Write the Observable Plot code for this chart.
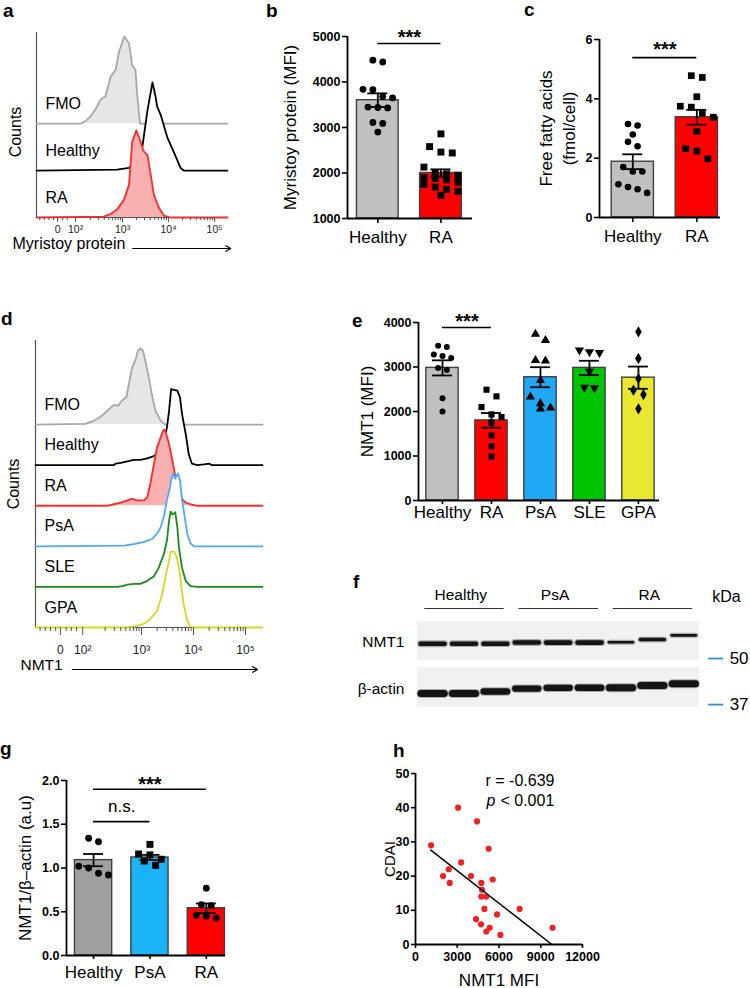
<!DOCTYPE html>
<html><head><meta charset="utf-8">
<script src="https://cdn.jsdelivr.net/npm/d3@7"></script>
<script src="https://cdn.jsdelivr.net/npm/@observablehq/plot@0.6"></script>
<style>
body{margin:0;background:#fff;}
#root{position:relative;width:750px;height:988px;overflow:hidden;background:#fff;font-family:"Liberation Sans",Arial,sans-serif;}
.lt{position:absolute;font-weight:bold;font-size:19px;line-height:19px;color:#000;}
</style></head><body><div id="root"></div>
<script>
// ---------- DATA ----------
// a: Myristoy protein flow histograms  [log10 fluorescence, relative count (peak=100)]
const aLabels = ["FMO", "Healthy", "RA"];
const aFMO = [[2.09,0],[2.20,3],[2.30,8],[2.41,16],[2.52,27],[2.63,31],[2.74,53],[2.85,61],[2.92,81],[3.04,99],[3.14,91],[3.21,66],[3.28,61],[3.32,31],[3.38,0]];
const aHealthy = [[2.88,1],[3.14,3],[3.25,8],[3.36,16],[3.43,27],[3.54,68],[3.65,100],[3.72,83],[3.75,73],[3.83,63],[3.97,38],[4.12,20],[4.26,3],[4.33,0]];
const aRA = [[2.59,1],[2.74,4],[2.88,9],[3.03,20],[3.14,37],[3.21,86],[3.30,99],[3.39,86],[3.46,75],[3.54,71],[3.61,49],[3.68,26],[3.79,11],[3.90,2],[4.04,0]];
const aTickPos = [1.59, 1.98, 3, 4, 5];
const histTickLabels = ["0", "10\u00B2", "10\u00B3", "10\u2074", "10\u2075"];

// b: Myristoy protein (MFI)
const bCats = ["Healthy", "RA"];
const bMeans = [3600, 2000];
const bSems = [150, 80];
const bHealthy = [4480,4440,3840,3830,3680,3650,3450,3440,3430,3110,3090,2900];
const bRA = [2860,2580,2460,2440,2130,2000,1980,1950,1900,1880,1850,1800,1750,1690,1640,1600,1510];
const bTicks = [1000,2000,3000,4000,5000];

// c: Free fatty acids (fmol/cell)
const cCats = ["Healthy", "RA"];
const cMeans = [1.88, 3.38];
const cSems = [0.25, 0.25];
const cHealthy = [3.15,3.10,2.80,2.55,2.40,1.70,1.55,1.55,1.12,1.03,0.95,0.83];
const cRA = [4.78,4.72,4.07,3.75,3.72,3.52,3.38,2.90,2.32,2.24,1.98];
const cTicks = [0,2,4,6];

// d: NMT1 flow histograms
const dLabels = ["FMO", "Healthy", "RA", "PsA", "SLE", "GPA"];
const dFMO = [[1.92,1],[2.08,5],[2.21,10],[2.34,18],[2.47,26],[2.55,25],[2.63,32],[2.71,36],[2.76,54],[2.82,75],[2.89,86],[2.93,97],[2.98,100],[3.03,97],[3.08,82],[3.14,62],[3.21,36],[3.27,18],[3.37,5],[3.46,0]];
const dHealthy = [[2.47,0],[2.50,2],[2.60,3],[2.73,5],[2.85,7],[2.98,7],[3.11,9],[3.24,12],[3.33,17],[3.43,30],[3.49,50],[3.53,71],[3.57,100],[3.62,99],[3.69,98],[3.74,89],[3.78,67],[3.85,41],[3.91,14],[3.97,2],[4.07,0],[4.20,1],[4.30,2],[4.36,0]];
const dRA = [[2.34,0],[2.47,2],[2.60,4],[2.73,7],[2.82,9],[2.92,7],[3.05,7],[3.11,11],[3.17,29],[3.24,55],[3.30,77],[3.35,86],[3.40,96],[3.43,100],[3.47,96],[3.53,81],[3.57,68],[3.62,50],[3.69,24],[3.75,11],[3.85,4],[3.94,2],[4.07,0]];
const dPsA = [[2.66,1],[2.85,3],[3.05,6],[3.21,10],[3.30,17],[3.37,25],[3.43,39],[3.49,61],[3.55,78],[3.57,87],[3.61,96],[3.65,89],[3.70,96],[3.74,87],[3.78,61],[3.83,39],[3.88,17],[3.94,4],[4.01,0]];
const dSLE = [[2.53,0],[2.63,1],[2.73,3],[2.85,4],[2.98,4],[3.11,8],[3.24,14],[3.33,25],[3.43,43],[3.49,61],[3.53,87],[3.56,99],[3.60,95],[3.65,98],[3.69,78],[3.72,52],[3.78,25],[3.85,8],[3.94,1],[4.07,0]];
const dGPA = [[2.73,0],[2.82,1],[2.92,2],[3.05,5],[3.17,11],[3.30,22],[3.40,44],[3.46,66],[3.53,88],[3.56,99],[3.62,100],[3.67,94],[3.72,79],[3.76,57],[3.81,31],[3.88,9],[3.94,1],[4.01,0]];
const dTickPos = [1.44, 1.87, 3, 4, 5];

// e: NMT1 (MFI)
const eCats = ["Healthy", "RA", "PsA", "SLE", "GPA"];
const eMeans = [2980, 1800, 2770, 2980, 2760];
const eSems = [170, 165, 225, 160, 250];
const eHealthy = [3480,3450,3280,3250,3200,2980,2930,2300,2000];
const eRA = [2490,2340,2100,1935,1875,1750,1460,1220,990];
const ePsA = [3740,3600,3150,3140,2700,2330,2180,2080,2060];
const eSLE = [3380,3340,3320,2900,2540,2530];
const eGPA = [3790,3190,2740,2480,2380,2060];
const eTicks = [0,1000,2000,3000,4000];

// f: western blot (lanes: 3 Healthy, 3 PsA, 3 RA)
const fGroups = ["Healthy", "PsA", "RA"];
const fNmt1Intensity = [0.85,0.80,0.80,0.85,0.90,0.90,0.35,0.55,0.40];
const fNmt1MW = [55.1,55.1,55.1,55.5,55.5,55.5,55.6,56.6,58.2];
const fActinIntensity = [1.0,1.0,0.9,0.85,0.85,0.9,1.0,1.0,1.0];
const fActinMW = [39.8,39.8,40.3,41.1,41.3,41.3,41.3,41.9,42.4];
const fMarkers = [50, 37];

// g: NMT1/beta-actin
const gCats = ["Healthy", "PsA", "RA"];
const gMeans = [1.09, 1.12, 0.54];
const gSems = [0.07, 0.03, 0.055];
const gHealthy = [1.34,1.30,1.02,1.00,0.94,0.92];
const gPsA = [1.27,1.16,1.15,1.10,1.08,1.03];
const gRA = [0.77,0.58,0.57,0.46,0.45,0.43];
const gTicks = [0,0.5,1.0,1.5,2.0];

// h: CDAI vs NMT1 MFI
const hNMT1 = [1120,3060,4420,5260,3280,1980,2390,2460,3990,4730,4780,5550,4730,5090,4950,7480,5860,4350,4710,5330,5090,6100,9850];
const hCDAI = [29,40,36,28,24,20,22,18,20,18,16,19,14,14,10.4,10.4,8.8,7.4,5.9,4.9,3.8,2.8,4.9];
const hFitX = [1100, 9800];
const hFitY = [27.6, 0];
const hXTicks = [0,3000,6000,9000,12000];
const hYTicks = [0,10,20,30,40,50];

// ---------- HELPERS ----------
const root = document.getElementById("root");
const FONT = '"Liberation Sans", Arial, sans-serif';
const baseStyle = {fontFamily: FONT, fontSize: "12.5px", color: "#000", background: "transparent", overflow: "visible"};

function mount(svg, L, T, ml, mt) {
  svg.style.position = "absolute";
  svg.style.left = (L - ml) + "px";
  svg.style.top = (T - mt) + "px";
  svg.style.maxWidth = "none";
  root.appendChild(svg);
}
function letter(t, x, y) {
  const d = document.createElement("div");
  d.className = "lt"; d.textContent = t;
  d.style.left = x + "px"; d.style.top = y + "px";
  root.appendChild(d);
}

function swarm(vals, center, r, pxX, pxY, halfPx) {
  const S = r * 2.9;
  const maxK = Math.max(1, Math.floor(2 * halfPx * 0.85 / S) + 1);
  const order = vals.map((v, i) => i).sort((a, b) => vals[b] - vals[a]);
  const xs = new Array(vals.length);
  let cl = [];
  const flush = () => { const k = cl.length; cl.forEach((j, m) => { xs[j] = center + (m - (k - 1) / 2) * S / pxX; }); cl = []; };
  for (const j of order) {
    if (cl.length && ((vals[cl[cl.length - 1]] - vals[j]) * pxY > r * 2.2 || cl.length >= maxK)) flush();
    cl.push(j);
  }
  flush();
  return xs;
}

function barPanel(o) {
  const [L, T, R, B] = o.frame;
  const ml = 90, mt = 40, mr = 20, mb = 40;
  const fw = R - L, fh = B - T;
  const pxX = fw / (o.xDomain[1] - o.xDomain[0]);
  const pxY = fh / (o.yDomain[1] - o.yDomain[0]);
  const HALF = 0.33, CAP = 10 / pxX;
  const bars = o.cats.map((c, i) => ({i, mean: o.means[i], sem: o.sems[i]}));
  const marks = [];
  bars.forEach((b, i) => marks.push(Plot.rectY([b], {x1: d => d.i - HALF, x2: d => d.i + HALF, y1: o.yDomain[0], y2: "mean", fill: o.fills[i], stroke: "#404040", strokeWidth: 1.4})));
  marks.push(Plot.ruleX(bars, {x: "i", y1: d => d.mean - d.sem, y2: d => d.mean + d.sem, strokeWidth: 1.8}));
  marks.push(Plot.ruleY(bars, {x1: d => d.i - CAP, x2: d => d.i + CAP, y: d => d.mean + d.sem, strokeWidth: 1.8}));
  marks.push(Plot.ruleY(bars, {x1: d => d.i - CAP, x2: d => d.i + CAP, y: d => d.mean - d.sem, strokeWidth: 1.8}));
  o.groups.forEach((vals, i) => {
    const sym = o.symbols[i];
    const r = sym === "circle" ? o.r : o.r * 1.15;
    const xs = swarm(vals, i, r, pxX, pxY, HALF * pxX);
    const pts = vals.map((v, k) => ({x: xs[k], y: v}));
    marks.push(Plot.dot(pts, {x: "x", y: "y", r, symbol: sym === "down" ? "triangle" : sym, rotate: sym === "down" ? 180 : 0, fill: "#000", stroke: "none"}));
  });
  marks.push(Plot.ruleX([o.xDomain[0]], {strokeWidth: 1.8}));
  marks.push(Plot.ruleY([o.yDomain[0]], {strokeWidth: 1.8}));
  marks.push(Plot.axisY({ticks: o.yTicks, tickFormat: o.yFmt, tickSize: 5, tickPadding: 2, fontWeight: "bold", fontSize: 12.5, strokeWidth: 1.6, label: null}));
  marks.push(Plot.axisX({ticks: o.cats.map((c, i) => i), tickFormat: i => o.cats[i], tickSize: o.catTick, tickPadding: o.catPad, fontSize: 17, strokeWidth: 1.6, label: null}));
  if (o.sigs) {
    marks.push(Plot.ruleY(o.sigs, {x1: "from", x2: "to", y: "y", strokeWidth: 1.6}));
    marks.push(Plot.text(o.sigs.filter(d => d.text === "***"), {x: d => (d.from + d.to) / 2, y: "y", text: "text", dy: o.starDy, fontSize: 20, fontWeight: "bold"}));
    marks.push(Plot.text(o.sigs.filter(d => d.text !== "***"), {x: d => (d.from + d.to) / 2, y: "y", text: "text", dy: -15, fontSize: 17}));
  }
  marks.push(Plot.text([o.ylabel], {frameAnchor: "left", rotate: -90, dx: o.ylabelDx, textAnchor: "middle", fontSize: 17, lineHeight: o.lineHeight || 1}));
  const svg = Plot.plot({
    width: ml + fw + mr, height: mt + fh + mb,
    marginLeft: ml, marginTop: mt, marginRight: mr, marginBottom: mb,
    x: {domain: o.xDomain}, y: {domain: o.yDomain},
    style: baseStyle, marks
  });
  mount(svg, L, T, ml, mt);
}

const ROW = 53.3;
function histPanel(o) {
  const [L, T, R, B] = o.frame;
  const ml = 40, mt = 10, mr = 20, mb = 60;
  const fw = R - L, fh = B - T;
  const pxY = fh / o.yMax;
  const n = o.curves.length;
  const marks = [
    Plot.ruleX([o.xDomain[0]], {stroke: "#555", strokeWidth: 1.2}),
    Plot.ruleY([0], {stroke: "#555", strokeWidth: 1.2})
  ];
  o.curves.forEach((c, i) => {
    const base = (n - 1 - i) * ROW;
    const pts = [[o.xDomain[0], 0], ...c, [o.xDomain[1], 0]];
    marks.push(Plot.areaY(pts, {x: d => d[0], y1: base, y2: d => base + d[1], fill: o.fills[i]}));
    marks.push(Plot.lineY(pts, {x: d => d[0], y: d => base + d[1], stroke: o.colors[i], strokeWidth: 1.8}));
  });
  const rows = o.labels.map((l, i) => ({l, base: (n - 1 - i) * ROW}));
  marks.push(Plot.text(rows, {y: "base", text: "l", frameAnchor: "left", dx: 9, dy: -20, textAnchor: "start", fontSize: 16}));
  const minor = [];
  for (let d = 2; d <= 4; d++) for (let k = 2; k <= 9; k++) minor.push(d + Math.log10(k));
  o.linTicks.forEach(t => minor.push(t));
  marks.push(Plot.ruleX(minor, {x: d => d, y1: 0, y2: -o.minorLen / pxY, stroke: "#555", strokeWidth: 1}));
  marks.push(Plot.axisX({ticks: o.tickPos, tickFormat: d => histTickLabels[o.tickPos.indexOf(d)], tickSize: o.majorLen, tickPadding: o.tickPad, fontSize: o.tickFont, stroke: "#555", fill: "#222", label: null}));
  marks.push(Plot.text(["Counts"], {frameAnchor: "left", rotate: -90, dx: o.countsDx, dy: o.countsDy, textAnchor: "middle", fontSize: 16}));
  marks.push(Plot.text([o.title], {frameAnchor: "bottom-left", dx: o.titleDx, dy: o.titleDy, textAnchor: "start", fontSize: o.titleFont}));
  marks.push(Plot.arrow([0], {x1: o.arrow[0], x2: o.arrow[1], y1: 0, y2: 0, dy: o.titleDy, headLength: 7, strokeWidth: 1.2, bend: false}));
  const svg = Plot.plot({
    width: ml + fw + mr, height: mt + fh + mb,
    marginLeft: ml, marginTop: mt, marginRight: mr, marginBottom: mb,
    x: {domain: o.xDomain}, y: {domain: [0, o.yMax], axis: null},
    style: baseStyle, marks
  });
  mount(svg, L, T, ml, mt);
}

// ---------- PANELS ----------
letter("a", 3, 1); letter("b", 266, 1); letter("c", 524, 0);
letter("d", 1, 309); letter("e", 352, 311); letter("f", 353, 572);
letter("g", 0, 739); letter("h", 393, 741);

// a
histPanel({
  frame: [36, 32, 227, 217], xDomain: [1.13, 5.28], yMax: 210,
  curves: [aFMO, aHealthy, aRA], labels: aLabels,
  colors: ["#a8a8a8", "#000", "#ff2a2a"], fills: ["#e6e6e6", "#fff", "#f9b0b0"],
  tickPos: aTickPos, linTicks: [1.2, 1.3, 1.4, 1.5, 1.7, 1.8],
  majorLen: 5, minorLen: 3, tickPad: 3, tickFont: 10.5,
  countsDx: -21, countsDy: 7,
  title: "Myristoy protein", titleDx: -24, titleDy: 31, titleFont: 16, arrow: [3.22, 5.35]
});

// b
barPanel({
  frame: [347, 36, 472, 218], xDomain: [-0.48, 1.5], yDomain: [1000, 5000],
  yTicks: bTicks, yFmt: "d", cats: bCats, means: bMeans, sems: bSems,
  fills: ["#c0c0c0", "#ff0000"], groups: [bHealthy, bRA], symbols: ["circle", "square"], r: 3.4,
  catTick: 5, catPad: 7, ylabel: "Myristoy protein (MFI)", ylabelDx: -57,
  sigs: [{from: 0, to: 1, y: 4846, text: "***"}], starDy: -6
});

// c
barPanel({
  frame: [599, 39, 720, 217], xDomain: [-0.52, 1.37], yDomain: [0, 6],
  yTicks: cTicks, yFmt: "d", cats: cCats, means: cMeans, sems: cSems,
  fills: ["#c0c0c0", "#ff0000"], groups: [cHealthy, cRA], symbols: ["circle", "square"], r: 3.3,
  catTick: 5, catPad: 7, ylabel: "Free fatty acids\n(fmol/cell)", ylabelDx: -43, lineHeight: 1.35,
  sigs: [{from: 0, to: 1, y: 5.39, text: "***"}], starDy: -8
});

// d
histPanel({
  frame: [35, 340, 262, 627], xDomain: [0.962, 5.327], yMax: 377,
  curves: [dFMO, dHealthy, dRA, dPsA, dSLE, dGPA], labels: dLabels,
  colors: ["#a8a8a8", "#000", "#ff2a2a", "#4da9ff", "#1a8c1a", "#d8d820"],
  fills: ["#e6e6e6", "#fff", "#f9b0b0", "#fff", "#fff", "#fff"],
  tickPos: dTickPos, linTicks: [1.05, 1.15, 1.25, 1.35, 1.55, 1.65, 1.75],
  majorLen: 8, minorLen: 4, tickPad: 10, tickFont: 12,
  countsDx: -22, countsDy: 0,
  title: "NMT1", titleDx: -15, titleDy: 42, titleFont: 15.5, arrow: [1.67, 5.23]
});

// e
barPanel({
  frame: [418, 322, 659, 500], xDomain: [-0.49, 4.43], yDomain: [0, 4000],
  yTicks: eTicks, yFmt: "d", cats: eCats, means: eMeans, sems: eSems,
  fills: ["#c0c0c0", "#ff0000", "#1fa8f5", "#00c400", "#e8e830"],
  groups: [eHealthy, eRA, ePsA, eSLE, eGPA], symbols: ["circle", "square", "triangle", "down", "diamond"], r: 3.0,
  catTick: 4, catPad: 1, ylabel: "NMT1 (MFI)", ylabelDx: -51,
  sigs: [{from: 0, to: 1, y: 3888, text: "***"}], starDy: -6
});

// f
(function () {
  const L = 417, T = 621, R = 699, B = 707;
  const ml = 60, mt = 45, mr = 60, mb = 10;
  const top = 63.7, bot = 36.3;
  const strips = [{lo: 49.3, hi: top}, {lo: bot, hi: 47.1}];
  const nmt1 = fNmt1MW.map((mw, i) => ({i, mw, v: fNmt1Intensity[i]}));
  const actin = fActinMW.map((mw, i) => ({i, mw, v: fActinIntensity[i]}));
  const groups = fGroups.map((g, k) => ({g, a: 3 * k, b: 3 * k + 2}));
  const rowLabels = [{t: "NMT1", mw: d3.mean(fNmt1MW)}, {t: "\u03B2-actin", mw: d3.mean(fActinMW)}];
  const svg = Plot.plot({
    width: ml + (R - L) + mr, height: mt + (B - T) + mb,
    marginLeft: ml, marginTop: mt, marginRight: mr, marginBottom: mb,
    x: {domain: [-0.48, 8.5], axis: null}, y: {type: "log", domain: [bot, top], axis: null},
    style: baseStyle,
    marks: [
      Plot.rect(strips, {x1: -0.48, x2: 8.5, y1: "lo", y2: "hi", fill: "#f1f1f1"}),
      Plot.link(nmt1, {x1: d => d.i - 0.38, x2: d => d.i + 0.38, y1: "mw", y2: "mw", stroke: "#555", strokeOpacity: 0.45, strokeWidth: d => 3.5 + 4 * d.v, strokeLinecap: "round"}),
      Plot.link(nmt1, {x1: d => d.i - 0.38, x2: d => d.i + 0.38, y1: "mw", y2: "mw", stroke: "#141414", strokeWidth: d => 1.2 + 4 * d.v, strokeLinecap: "round"}),
      Plot.link(actin, {x1: d => d.i - 0.37, x2: d => d.i + 0.37, y1: "mw", y2: "mw", stroke: "#555", strokeOpacity: 0.45, strokeWidth: d => 4 + 5 * d.v, strokeLinecap: "round"}),
      Plot.link(actin, {x1: d => d.i - 0.37, x2: d => d.i + 0.37, y1: "mw", y2: "mw", stroke: "#141414", strokeWidth: d => 2 + 5 * d.v, strokeLinecap: "round"}),
      Plot.text(rowLabels, {y: "mw", text: "t", frameAnchor: "left", dx: -13, textAnchor: "end", fontSize: 15.5}),
      Plot.text(groups, {x: d => (d.a + d.b) / 2 - 0.1, text: "g", frameAnchor: "top", dy: -33, fontSize: 15.5}),
      Plot.ruleY(groups, {x1: d => d.a - 0.25, x2: d => d.b + 0.28, y: top, dy: -13, stroke: "#333", strokeWidth: 1}),
      Plot.text(["kDa"], {x: 9.36, frameAnchor: "top", dy: -31, fontSize: 16}),
      Plot.ruleY(fMarkers, {x1: 8.79, x2: 9.27, y: d => d, stroke: "#2f8fdc", strokeWidth: 1.8}),
      Plot.text(fMarkers, {x: 9.46, y: d => d, text: d => String(d), textAnchor: "start", fontSize: 17})
    ]
  });
  mount(svg, L, T, ml, mt);
})();

// g
barPanel({
  frame: [66, 780, 225, 955], xDomain: [-0.48, 2.34], yDomain: [0, 2],
  yTicks: gTicks, yFmt: ".1f", cats: gCats, means: gMeans, sems: gSems,
  fills: ["#a0a0a0", "#1ab4f5", "#ff0000"], groups: [gHealthy, gPsA, gRA], symbols: ["circle", "square", "circle"], r: 3.4,
  catTick: 4, catPad: 6, ylabel: "NMT1/\u03B2\u2013actin (a.u)", ylabelDx: -41,
  sigs: [{from: 0, to: 2, y: 1.9, text: "***"}, {from: 0, to: 1, y: 1.53, text: "n.s."}], starDy: -5
});

// h
(function () {
  const L = 415, T = 773, R = 582, B = 944;
  const ml = 60, mt = 20, mr = 30, mb = 50;
  const pts = hNMT1.map((x, i) => ({x, y: hCDAI[i]}));
  const fit = hFitX.map((x, i) => ({x, y: hFitY[i]}));
  const svg = Plot.plot({
    width: ml + (R - L) + mr, height: mt + (B - T) + mb,
    marginLeft: ml, marginTop: mt, marginRight: mr, marginBottom: mb,
    x: {domain: [0, 12000]}, y: {domain: [0, 50]},
    style: baseStyle,
    marks: [
      Plot.ruleX([0], {strokeWidth: 1.8}),
      Plot.ruleY([0], {strokeWidth: 1.8}),
      Plot.axisX({ticks: hXTicks, tickFormat: "d", tickSize: 4, tickPadding: 4, fontWeight: "bold", fontSize: 12.5, strokeWidth: 1.6, label: null}),
      Plot.axisY({ticks: hYTicks, tickFormat: "d", tickSize: 4, tickPadding: 2, fontWeight: "bold", fontSize: 12.5, strokeWidth: 1.6, label: null}),
      Plot.dot(pts, {x: "x", y: "y", r: 3.1, fill: "#ee2222", stroke: "none"}),
      Plot.line(fit, {x: "x", y: "y", strokeWidth: 1.5}),
      Plot.text(["r = -0.639"], {x: 5030, y: 47.7, textAnchor: "start", fontSize: 16}),
      Plot.text(["p"], {x: 5100, y: 42.1, textAnchor: "start", fontSize: 16, fontStyle: "italic"}),
      Plot.text(["< 0.001"], {x: 5100, y: 42.1, dx: 14, textAnchor: "start", fontSize: 16}),
      Plot.text(["NMT1 MFI"], {frameAnchor: "bottom", dy: 41, fontSize: 17}),
      Plot.text(["CDAI"], {frameAnchor: "left", rotate: -90, dx: -25, textAnchor: "middle", fontSize: 15})
    ]
  });
  mount(svg, L, T, ml, mt);
})();
</script></body></html>
